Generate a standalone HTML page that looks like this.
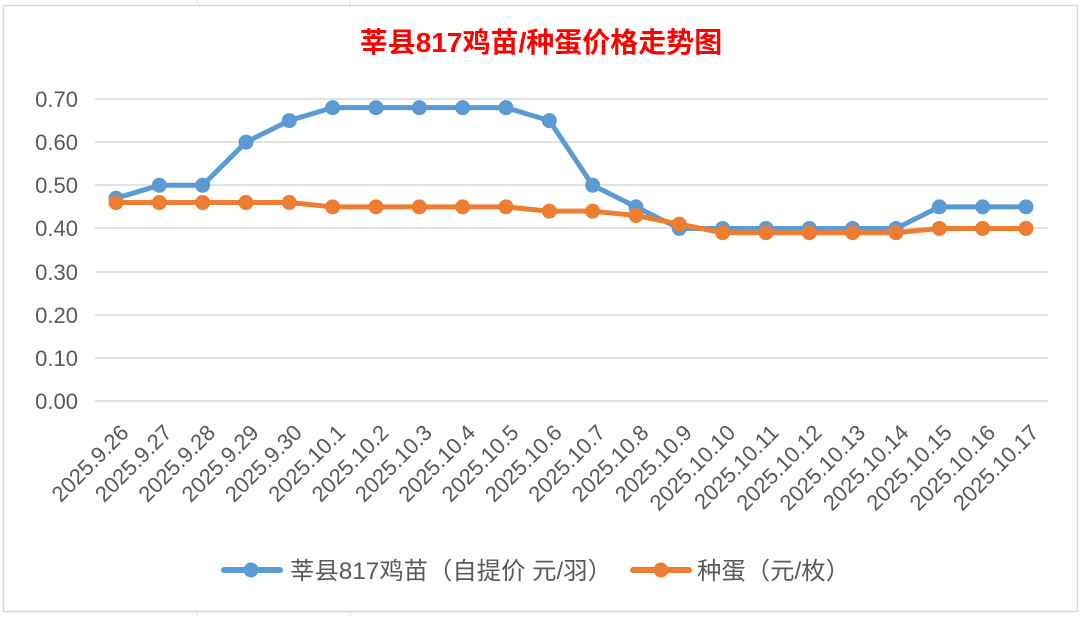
<!DOCTYPE html>
<html><head><meta charset="utf-8"><style>body{margin:0;background:#fff}</style></head><body>
<svg width="1082" height="617" xmlns="http://www.w3.org/2000/svg" font-family="Liberation Sans, Noto Sans CJK SC, sans-serif">
<rect width="1082" height="617" fill="#fff"/>
<g stroke="#e4e4e4" stroke-width="1">
<line x1="197" y1="0" x2="197" y2="5"/><line x1="350" y1="0" x2="350" y2="5"/><line x1="197" y1="612" x2="197" y2="617"/><line x1="350" y1="612" x2="350" y2="617"/>
</g>
<rect x="3.5" y="5.5" width="1074" height="606" fill="#fff" stroke="#d9d9d9" stroke-width="1.5"/>
<text x="541" y="52" text-anchor="middle" font-size="28" font-weight="bold" fill="#ff0000">莘县817鸡苗/种蛋价格走势图</text>
<g stroke="#d9d9d9" stroke-width="1.5">
<line x1="95" y1="99" x2="1048" y2="99"/><line x1="95" y1="142" x2="1048" y2="142"/><line x1="95" y1="185" x2="1048" y2="185"/><line x1="95" y1="228" x2="1048" y2="228"/><line x1="95" y1="272" x2="1048" y2="272"/><line x1="95" y1="315" x2="1048" y2="315"/><line x1="95" y1="358" x2="1048" y2="358"/><line x1="95" y1="401" x2="1048" y2="401"/>
</g>
<g font-size="22" fill="#595959" text-anchor="end">
<text x="78" y="107">0.70</text><text x="78" y="150">0.60</text><text x="78" y="193">0.50</text><text x="78" y="236">0.40</text><text x="78" y="280">0.30</text><text x="78" y="323">0.20</text><text x="78" y="366">0.10</text><text x="78" y="409">0.00</text>
</g>
<g id="labels" font-size="22" fill="#595959" text-anchor="end"></g>
<g id="series"></g>
<line x1="224" y1="570" x2="280" y2="570" stroke="#5b9bd5" stroke-width="6" stroke-linecap="round"/><circle cx="251" cy="570" r="7.5" fill="#5b9bd5"/>
<text x="290" y="579" font-size="24" fill="#595959" textLength="322" lengthAdjust="spacingAndGlyphs">莘县817鸡苗（自提价 元/羽）</text>
<line x1="633" y1="570" x2="689" y2="570" stroke="#ed7d31" stroke-width="6" stroke-linecap="round"/><circle cx="661" cy="570" r="7.5" fill="#ed7d31"/>
<text x="697" y="579" font-size="24" fill="#595959" textLength="153" lengthAdjust="spacingAndGlyphs">种蛋（元/枚）</text>
<script>
var L=["2025.9.26","2025.9.27","2025.9.28","2025.9.29","2025.9.30","2025.10.1","2025.10.2","2025.10.3","2025.10.4","2025.10.5","2025.10.6","2025.10.7","2025.10.8","2025.10.9","2025.10.10","2025.10.11","2025.10.12","2025.10.13","2025.10.14","2025.10.15","2025.10.16","2025.10.17"];
var B=[.47,.5,.5,.6,.65,.68,.68,.68,.68,.68,.65,.5,.45,.4,.4,.4,.4,.4,.4,.45,.45,.45];
var O=[.46,.46,.46,.46,.46,.45,.45,.45,.45,.45,.44,.44,.43,.41,.39,.39,.39,.39,.39,.4,.4,.4];
var ns="http://www.w3.org/2000/svg";
function X(i){return 116+i*910/21}function Y(v){return 401-v*431.4}
var g=document.getElementById("labels");
L.forEach(function(t,i){var e=document.createElementNS(ns,"text");var x=X(i)+14,y=434;e.setAttribute("x",x);e.setAttribute("y",y);e.setAttribute("transform","rotate(-45 "+x+" "+y+")");e.textContent=t;g.appendChild(e);});
var s=document.getElementById("series");
[[B,"#5b9bd5"],[O,"#ed7d31"]].forEach(function(d){var p=d[0].map(function(v,i){return X(i)+","+Y(v)}).join(" ");var pl=document.createElementNS(ns,"polyline");pl.setAttribute("points",p);pl.setAttribute("fill","none");pl.setAttribute("stroke",d[1]);pl.setAttribute("stroke-width","5");pl.setAttribute("stroke-linejoin","round");s.appendChild(pl);
d[0].forEach(function(v,i){var c=document.createElementNS(ns,"circle");c.setAttribute("cx",X(i));c.setAttribute("cy",Y(v));c.setAttribute("r","7.5");c.setAttribute("fill",d[1]);s.appendChild(c);});});
</script>
</svg>
</body></html>
